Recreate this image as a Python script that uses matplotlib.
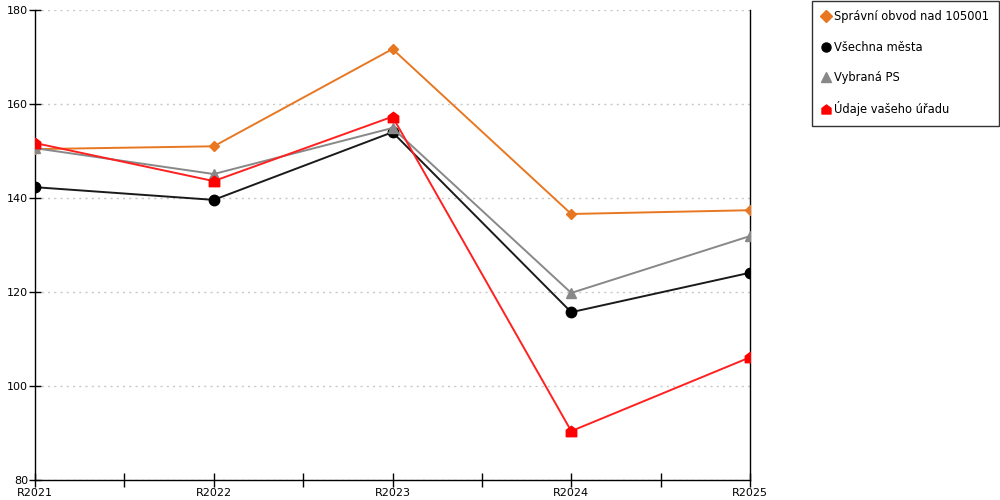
import numpy as np
import matplotlib.pyplot as plt
from matplotlib.path import Path

years = ["R2021", "R2022", "R2023", "R2024", "R2025"]

spravni_obvod = [150.4, 151.0, 171.7, 136.6, 137.4]
vsechna_mesta = [142.3, 139.6, 154.0, 115.7, 124.1]
vybrana_ps = [150.6, 145.1, 154.9, 119.8, 131.9]
udaje_uradu = [151.7, 143.6, 157.3, 90.4, 106.1]

# house-shaped marker for the office series
house = Path([(-1, -1), (1, -1), (1, 0.25), (0, 1), (-1, 0.25), (-1, -1)],
             [Path.MOVETO] + [Path.LINETO] * 4 + [Path.CLOSEPOLY])

plt.rcParams['font.family'] = ['DejaVu Sans']

fig = plt.figure(figsize=(10, 5), dpi=100)
ax = fig.add_axes([0.035, 0.04, 0.715, 0.94])

x = np.arange(len(years))
ax.plot(x, spravni_obvod, color='#e87722', lw=1.4, marker='D', ms=5,
        label='Správní obvod nad 105001', zorder=3)
ax.plot(x, vsechna_mesta, color='#1a1a1a', lw=1.4, marker='o', ms=7.5,
        markerfacecolor='black', markeredgecolor='black',
        label='Všechna města', zorder=3)
ax.plot(x, vybrana_ps, color='#888888', lw=1.4, marker='^', ms=7.5,
        label='Vybraná PS', zorder=3)
ax.plot(x, udaje_uradu, color='#ff2020', lw=1.4, marker=house, ms=7.5,
        markerfacecolor='red', markeredgecolor='red',
        label='Údaje vašeho úřadu', zorder=4)

ax.set_xlim(0, len(years) - 1)
ax.set_ylim(80, 180)
ax.set_yticks([80, 100, 120, 140, 160, 180])
ax.set_xticks(x)
ax.set_xticklabels(years)
ax.set_xticks(x[:-1] + 0.5, minor=True)

ax.grid(axis='y', color='#c8c8c8', ls=(0, (1.5, 3)), lw=1)
ax.set_axisbelow(True)

ax.spines['top'].set_visible(False)
for s in ['left', 'right', 'bottom']:
    ax.spines[s].set_color('black')
    ax.spines[s].set_linewidth(1)

ax.tick_params(axis='both', which='both', direction='inout', length=10,
               width=1, labelsize=8, colors='black')
ax.tick_params(axis='y', length=8, pad=1)
ax.tick_params(axis='x', pad=1)
ax.tick_params(axis='y', which='both', right=False)

leg = fig.legend(loc='upper left', bbox_to_anchor=(0.812, 0.999),
                 frameon=True, fancybox=False, fontsize=8.3,
                 labelspacing=1.5, handlelength=0.7, handletextpad=0.35,
                 borderpad=0.85, borderaxespad=0)
leg.get_frame().set_edgecolor('black')
leg.get_frame().set_linewidth(1)
for h in leg.get_lines():
    h.set_linestyle('None')
    h.set_markersize(6.5)

fig.savefig('out.png', dpi=100)
